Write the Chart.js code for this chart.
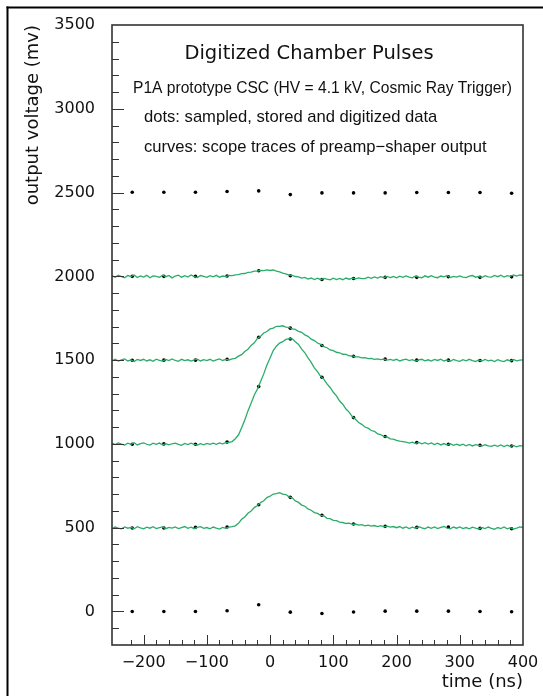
<!DOCTYPE html>
<html><head><meta charset="utf-8">
<script src="https://cdn.jsdelivr.net/npm/chart.js@4.4.1/dist/chart.umd.min.js"></script>
<style>html,body{margin:0;padding:0;background:#fff}canvas{display:block}</style>
</head><body>
<canvas id="c" width="543" height="696"></canvas>
<script>
// ---- data ----
const traceTimes = [
-250,-245,-240,-235,-230,-225,-220,-215,-210,-205,
-200,-195,-190,-185,-180,-175,-170,-165,-160,-155,
-150,-145,-140,-135,-130,-125,-120,-115,-110,-105,
-100,-95,-90,-85,-80,-75,-70,-65,-60,-55,
-50,-45,-40,-35,-30,-25,-20,-15,-10,-5,
0,5,10,15,20,25,30,35,40,45,
50,55,60,65,70,75,80,85,90,95,
100,105,110,115,120,125,130,135,140,145,
150,155,160,165,170,175,180,185,190,195,
200,205,210,215,220,225,230,235,240,245,
250,255,260,265,270,275,280,285,290,295,
300,305,310,315,320,325,330,335,340,345,
350,355,360,365,370,375,380,385,390,395,
400];
const trace2000 = [
2004,1994,2006,1998,1992,2005,1999,2008,1993,2002,
1996,2006,1992,2003,2000,1994,2007,1998,2005,1991,
2002,2007,1995,2004,1996,2008,1998,1993,2005,2000,
1994,2004,1997,2006,1995,2002,1998,2005,2004,2009,
2010,2016,2017,2024,2025,2031,2032,2036,2034,2039,
2035,2038,2031,2027,2019,2015,2008,2006,1999,1997,
1990,1994,1984,1990,1981,1989,1980,1988,1983,1979,
1989,1981,1988,1980,1990,1983,1989,1985,1991,1986,
1986,1995,1988,1997,1990,1998,1992,2000,1993,1999,
1991,2001,1994,2003,1995,1991,2002,1996,1992,2003,
1995,2004,1996,1992,2002,1997,2005,1993,2000,1995,
2003,1996,1992,2001,2005,1995,2000,1993,2004,1997,
1995,2005,1998,2007,1996,2004,2000,2008,2002,2009,
2005];
const trace1500 = [
1497,1505,1494,1502,1507,1495,1501,1492,1504,1498,
1505,1495,1502,1493,1506,1499,1494,1504,1497,1507,
1498,1493,1505,1497,1502,1494,1501,1506,1495,1503,
1497,1505,1494,1501,1507,1498,1504,1501,1507,1511,
1524,1533,1552,1565,1588,1603,1630,1643,1662,1671,
1686,1691,1702,1701,1705,1697,1696,1686,1683,1671,
1666,1651,1642,1625,1617,1602,1594,1580,1574,1561,
1557,1547,1544,1535,1534,1526,1526,1519,1520,1513,
1515,1509,1511,1505,1508,1503,1506,1500,1504,1499,
1505,1495,1502,1506,1497,1503,1494,1501,1505,1496,
1502,1494,1504,1498,1506,1495,1501,1493,1504,1497,
1493,1503,1496,1505,1497,1492,1501,1494,1504,1496,
1500,1492,1503,1496,1491,1502,1495,1504,1496,1500,
1502];
const trace1000 = [
1005,996,1006,999,993,1004,998,1007,994,1002,
1006,998,993,1004,997,1005,995,1002,994,1001,
1005,997,992,1003,996,1004,998,993,1002,995,
1003,997,1005,998,1006,1000,1007,1009,1014,1031,
1053,1097,1143,1197,1243,1292,1328,1372,1418,1471,
1513,1557,1583,1602,1610,1624,1628,1627,1610,1594,
1566,1544,1513,1487,1454,1432,1403,1387,1358,1337,
1308,1287,1256,1237,1208,1190,1163,1147,1128,1117,
1101,1094,1080,1075,1060,1056,1044,1042,1030,1029,
1021,1017,1014,1011,1005,1011,1002,1009,1000,1007,
999,1006,996,1004,994,1002,993,1001,992,999,
991,998,989,997,988,996,991,987,995,989,
985,993,986,994,984,992,986,991,983,990,
987];
const trace500 = [
496,504,498,493,505,497,502,494,506,499,
493,503,497,506,495,501,505,494,502,498,
505,495,501,507,496,503,494,502,506,496,
501,493,504,497,492,502,496,504,506,511,
526,550,564,586,600,620,632,650,661,680,
688,701,703,709,700,698,684,678,660,651,
635,628,612,604,590,585,574,571,556,554,
544,542,533,531,525,527,520,522,515,518,
511,515,509,513,507,512,505,509,503,507,
500,507,497,505,495,503,497,506,499,494,
504,496,505,495,502,507,498,494,504,497,
505,495,501,493,503,497,492,501,495,504,
496,491,501,495,504,493,500,492,498,505,
501];
const sampleTimes = [-218,-168,-118,-68,-18,32,82,132,182,232,282,332,382];
const samples2500 = [2502,2502,2502,2506,2510,2488,2498,2498,2498,2500,2500,2500,2496];
const samples2000 = [2000,2000,2000,2002,2033,2004,1981,1987,1994,1994,1998,1994,1997];
const samples1500 = [1499,1500,1500,1505,1637,1691,1587,1523,1506,1500,1500,1498,1497];
const samples1000 = [998,1000,998,1011,1342,1626,1398,1157,1044,1008,998,992,988];
const samples500  = [498,498,502,504,637,681,574,522,508,502,504,496,494];
const samples0    = [0,0,0,4,40,-4,-12,-3,2,2,2,0,-2];
const xTickLabels = [-200,-100,0,100,200,300,400];
const yTickLabels = [0,500,1000,1500,2000,2500,3000,3500];
const xAxisTitle = 'time (ns)';
const yAxisTitle = 'output voltage (mv)';
const plotTitle = 'Digitized Chamber Pulses';
const infoLines = ['P1A prototype CSC (HV = 4.1 kV, Cosmic Ray Trigger)',
                   'dots: sampled, stored and digitized data',
                   'curves: scope traces of preamp\u2212shaper output'];

// ---- build datasets ----
const pts = (xs, ys) => xs.map((x, i) => ({x, y: ys[i]}));
const GREEN = '#2aac6a';
const traceSet = ys => ({data: pts(traceTimes, ys), showLine: true, borderColor: GREEN, borderWidth: 1.3,
  pointRadius: 0, tension: 0, fill: false});
const dotSet = ys => ({data: pts(sampleTimes, ys), showLine: false, pointRadius: 1.8, pointHoverRadius: 0,
  backgroundColor: '#000', borderColor: '#000', borderWidth: 0});

const decor = {
  id: 'decor',
  beforeDraw(chart) {
    const ctx = chart.ctx; ctx.save(); ctx.fillStyle = '#fff';
    ctx.fillRect(0, 0, chart.width, chart.height); ctx.restore();
  },
  afterDraw(chart) {
    const {ctx, chartArea: a, scales: {x, y}} = chart;
    ctx.save();
    ctx.strokeStyle = '#333'; ctx.lineWidth = 1;
    ctx.beginPath();
    y.ticks.forEach(t => {
      const v = t.value; if (v <= y.min || v >= y.max) return;
      const py = Math.round(y.getPixelForValue(v)) + 0.5;
      const len = yTickLabels.includes(v) ? 12 : 7;
      ctx.moveTo(a.left, py); ctx.lineTo(a.left + len, py);
    });
    x.ticks.forEach(t => {
      const v = t.value; if (v % 20 !== 0 || v <= x.min || v >= x.max) return;
      const px = Math.round(x.getPixelForValue(v)) + 0.5;
      const len = xTickLabels.includes(v) ? 10 : 5;
      ctx.moveTo(px, a.bottom); ctx.lineTo(px, a.bottom - len);
    });
    ctx.stroke();
    ctx.lineWidth = 1.6; ctx.strokeStyle = '#333';
    ctx.strokeRect(a.left, a.top, a.right - a.left, a.bottom - a.top);
    ctx.fillStyle = '#000';
    ctx.fillRect(6.5, 6.5, 2, chart.height);
    ctx.fillRect(6.5, 6.5, chart.width, 2);
    ctx.fillStyle = '#111';
    ctx.textBaseline = 'middle';
    ctx.textAlign = 'center';
    ctx.font = '19.5px "DejaVu Sans"';
    ctx.fillText(plotTitle, 309, 54);
    ctx.textAlign = 'left';
    ctx.font = '15.6px "Liberation Sans"';
    ctx.fillText(infoLines[0], 133, 89);
    ctx.font = '16.6px "Liberation Sans"';
    ctx.fillText(infoLines[1], 144, 117);
    ctx.fillText(infoLines[2], 144, 147);
    ctx.restore();
  }
};

new Chart(document.getElementById('c'), {
  type: 'scatter',
  data: {datasets: [
    traceSet(trace2000), traceSet(trace1500), traceSet(trace1000), traceSet(trace500),
    dotSet(samples2500), dotSet(samples2000), dotSet(samples1500), dotSet(samples1000),
    dotSet(samples500), dotSet(samples0)
  ]},
  options: {
    responsive: false, animation: false,
    layout: {padding: {left: 0, top: 25, right: 20, bottom: 0}},
    plugins: {legend: {display: false}, tooltip: {enabled: false}},
    scales: {
      x: {type: 'linear', min: -250, max: 400,
        grid: {display: false}, border: {display: false},
        ticks: {stepSize: 20, autoSkip: false, maxRotation: 0, padding: 0, color: '#111',
          font: {family: 'DejaVu Sans', size: 16},
          callback: v => xTickLabels.includes(v) ? String(v).replace('-', '\u2212') : ''},
        title: {display: true, text: xAxisTitle, align: 'end', color: '#111',
          font: {family: 'DejaVu Sans', size: 18}, padding: {top: 0, bottom: 3}},
        afterFit: s => { s.height = 51; }
      },
      y: {type: 'linear', min: -200, max: 3500,
        grid: {display: false}, border: {display: false},
        ticks: {stepSize: 100, autoSkip: false, padding: 9, color: '#111',
          font: {family: 'DejaVu Sans', size: 16},
          callback: v => yTickLabels.includes(v) ? String(v) : ''},
        title: {display: true, text: yAxisTitle, align: 'end', color: '#111',
          font: {family: 'DejaVu Sans', size: 18}, padding: {top: 23, bottom: 0}},
        afterFit: s => { s.width = 112; }
      }
    }
  },
  plugins: [decor]
});
</script>
</body></html>
